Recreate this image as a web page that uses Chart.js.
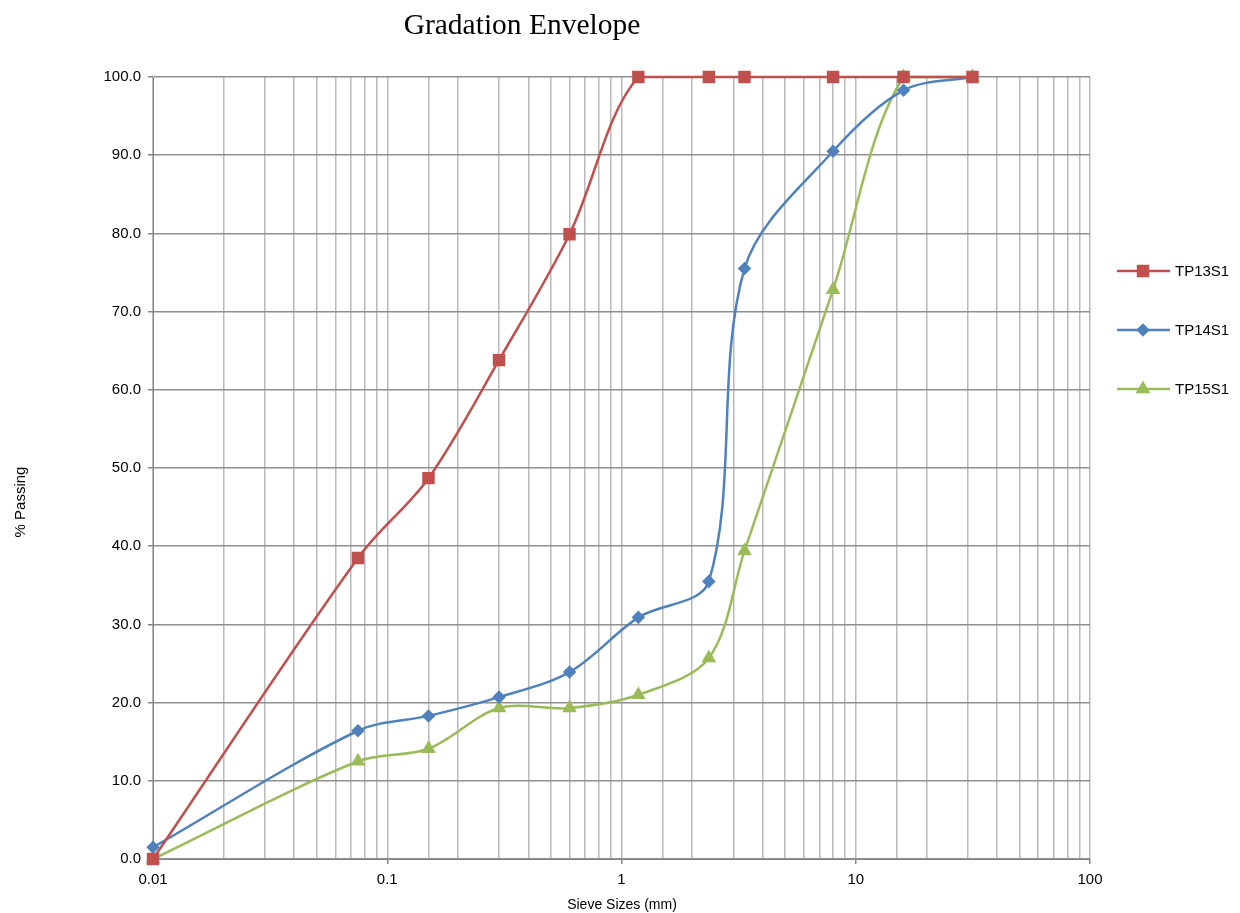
<!DOCTYPE html>
<html>
<head>
<meta charset="utf-8">
<title>Gradation Envelope</title>
<script src="https://cdn.jsdelivr.net/npm/chart.js@4.4.1/dist/chart.umd.min.js"></script>
<style>
    html, body { margin: 0; padding: 0; background: #fff; }
    #wrap { width: 1240px; height: 913px; }
</style>
</head>
<body>
<div id="wrap"><canvas id="gradation" width="1240" height="913"></canvas></div>
<script>
// sieve sizes in mm and % passing for each test pit
const sieveSizes = [0.01, 0.075, 0.15, 0.3, 0.6, 1.18, 2.36, 3.35, 8, 16, 31.5];
const tp13s1 = [0, 38.5, 48.7, 63.8, 79.9, 100, 100, 100, 100, 100, 100];
const tp14s1 = [1.5, 16.4, 18.3, 20.7, 23.9, 30.9, 35.5, 75.5, 90.5, 98.3, 100];
const tp15s1 = [0, 12.5, 14.1, 19.3, 19.3, 21.0, 25.7, 39.4, 72.8, 100, 100];
const yTicks = [0, 10, 20, 30, 40, 50, 60, 70, 80, 90, 100];

const toPoints = vals => sieveSizes.map((s, i) => ({ x: s, y: vals[i] }));
const isDecade = v => Math.abs(Math.log10(v) - Math.round(Math.log10(v))) < 1e-6;

const red = '#C0504D';
const blue = '#4F81BD';
const green = '#9BBB59';

// title, axis titles and the line+marker legend, drawn the Excel way
const decorations = {
    id: 'decorations',
    afterDraw(chart) {
        const ctx = chart.ctx;
        ctx.save();
        ctx.fillStyle = '#000';

        ctx.font = '29.5px "Liberation Serif", "Times New Roman", serif';
        ctx.textAlign = 'center';
        ctx.textBaseline = 'alphabetic';
        ctx.fillText('Gradation Envelope', 522, 34);

        ctx.textBaseline = 'middle';
        ctx.font = '14px "Liberation Sans", Arial, sans-serif';
        ctx.fillText('Sieve Sizes (mm)', 622, 905);

        ctx.save();
        ctx.translate(21, 502);
        ctx.rotate(-Math.PI / 2);
        ctx.font = '15px "Liberation Sans", Arial, sans-serif';
        ctx.fillText('% Passing', 0, 0);
        ctx.restore();

        ctx.textAlign = 'left';
        ctx.font = '15px "Liberation Sans", Arial, sans-serif';
        chart.data.datasets.forEach((ds, i) => {
            const y = 271 + i * 59;
            ctx.strokeStyle = ds.borderColor;
            ctx.lineWidth = 2.5;
            ctx.beginPath();
            ctx.moveTo(1117, y);
            ctx.lineTo(1170, y);
            ctx.stroke();
            Chart.helpers.drawPoint(ctx, {
                pointStyle: ds.pointStyle,
                radius: ds.pointRadius,
                rotation: 0,
                borderWidth: 1
            }, 1143, y);
            ctx.fillStyle = ds.backgroundColor;
            ctx.fill();
            ctx.fillStyle = '#000';
            ctx.fillText(ds.label, 1175, y + 1);
        });
        ctx.restore();
    }
};

new Chart(document.getElementById('gradation').getContext('2d'), {
    type: 'line',
    data: {
        datasets: [{
            label: 'TP13S1',
            data: toPoints(tp13s1),
            borderColor: red,
            backgroundColor: red,
            pointStyle: 'rect',
            pointRadius: 7,
            borderWidth: 2.5,
            tension: 0.33,
            clip: false
        }, {
            label: 'TP14S1',
            data: toPoints(tp14s1),
            borderColor: blue,
            backgroundColor: blue,
            pointStyle: 'rectRot',
            pointRadius: 5,
            borderWidth: 2.5,
            tension: 0.33,
            clip: false
        }, {
            label: 'TP15S1',
            data: toPoints(tp15s1),
            borderColor: green,
            backgroundColor: green,
            pointStyle: 'triangle',
            pointRadius: 6,
            borderWidth: 2.5,
            tension: 0.33,
            clip: false
        }]
    },
    options: {
        responsive: false,
        animation: false,
        layout: {
            padding: { left: 0, top: 77, right: 150, bottom: 0 }
        },
        scales: {
            x: {
                type: 'logarithmic',
                min: 0.01,
                max: 100,
                afterFit: scale => { scale.height = 54; },
                border: { color: '#868686', width: 1 },
                grid: {
                    color: '#b9b9b9',
                    lineWidth: 1.5,
                    tickLength: 5,
                    tickColor: c => isDecade(c.tick.value) ? '#868686' : 'rgba(0,0,0,0)'
                },
                ticks: {
                    autoSkip: false,
                    maxRotation: 0,
                    padding: 7,
                    color: '#000',
                    font: { family: '"Liberation Sans", Arial, sans-serif', size: 15 },
                    callback: v => isDecade(v) ? String(+v.toPrecision(3)) : ''
                }
            },
            y: {
                min: 0,
                max: 100,
                afterFit: scale => { scale.width = 153; },
                afterBuildTicks: scale => { scale.ticks = yTicks.map(v => ({ value: v })); },
                border: { color: '#868686', width: 1 },
                grid: {
                    color: '#8f8f8f',
                    lineWidth: 1.5,
                    tickLength: 5,
                    tickColor: '#868686'
                },
                ticks: {
                    padding: 7,
                    color: '#000',
                    font: { family: '"Liberation Sans", Arial, sans-serif', size: 15 },
                    callback: v => v.toFixed(1)
                }
            }
        },
        plugins: {
            legend: { display: false },
            title: { display: false },
            tooltip: { enabled: false }
        }
    },
    plugins: [decorations]
});
</script>
</body>
</html>
